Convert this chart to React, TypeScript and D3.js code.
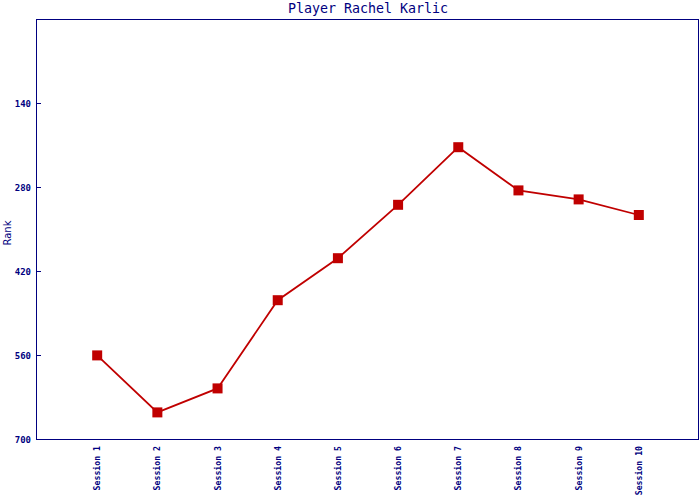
import React from "react";
import * as d3 from "d3";

const title = "Player Rachel Karlic";
const yLabel = "Rank";
const sessions = ["Session 1", "Session 2", "Session 3", "Session 4", "Session 5", "Session 6", "Session 7", "Session 8", "Session 9", "Session 10"];
const ranks = [559, 654, 614, 467, 397, 308, 212, 284, 299, 325];
const yTicks = [140, 280, 420, 560, 700];

const W = 700, H = 500;
const M = { left: 37, right: 699, top: 20, bottom: 440 };
const NAVY = "#000080";
const RED = "#c00000";

export default function App() {
  const x = d3.scalePoint<string>().domain(sessions).range([M.left, M.right]).padding(1);
  const y = d3.scaleLinear().domain([0, 700]).range([M.top, M.bottom]);
  const line = d3.line<number>().x((_, i) => x(sessions[i])!).y((d) => y(d));
  const mono = "'DejaVu Sans Mono', monospace";
  return (
    <svg width={W} height={H} style={{ position: "absolute", left: 0, top: 0 }}>
      <rect x={0} y={0} width={W} height={H} fill="#fff" />
      <text x={(M.left + M.right) / 2} y={13} textAnchor="middle" fontFamily={mono} fontSize={13.3} fill={NAVY}>{title}</text>
      <rect x={M.left - 0.5} y={M.top - 0.5} width={M.right - M.left} height={M.bottom - M.top} fill="none" stroke={NAVY} strokeWidth={1} />
      {yTicks.map((t) => (
        <g key={t}>
          <line x1={M.left} x2={M.left + 4} y1={Math.round(y(t)) - 0.5} y2={Math.round(y(t)) - 0.5} stroke={NAVY} />
          <text x={31} y={y(t)} dy="0.35em" textAnchor="end" fontFamily={mono} fontWeight="bold" fontSize={9} fill={NAVY}>{t}</text>
        </g>
      ))}
      <text transform={`translate(11,233) rotate(-90)`} textAnchor="middle" fontFamily="'DejaVu Sans', sans-serif" fontSize={10} fill={NAVY}>{yLabel}</text>
      {sessions.map((s) => (
        <text key={s} transform={`translate(${x(s)! + 3},446) rotate(-90)`} textAnchor="end" fontFamily={mono} fontWeight="bold" fontSize={8.2} fill={NAVY}>{s}</text>
      ))}
      <path d={line(ranks)!} fill="none" stroke={RED} strokeWidth={1.8} />
      {ranks.map((r, i) => (
        <rect key={i} x={x(sessions[i])! - 5} y={y(r) - 5} width={10} height={10} fill={RED} />
      ))}
    </svg>
  );
}
